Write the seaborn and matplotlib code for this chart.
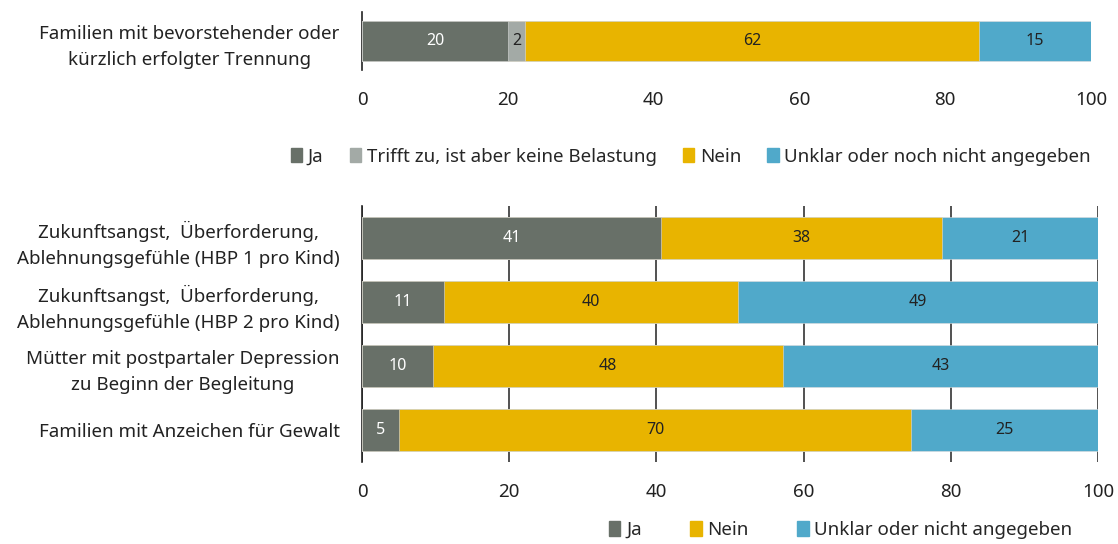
import pandas as pd
import matplotlib.pyplot as plt
import seaborn as sns
from matplotlib.patches import Patch

# --- Daten ---
top_cat = ["Familien mit bevorstehender oder\nkürzlich erfolgter Trennung"]
top_ja = [20.0]
top_trifft = [2.4]
top_nein = [62.2]
top_unklar = [15.4]

bot_cat = [
    "Zukunftsangst,  Überforderung,\nAblehnungsgefühle (HBP 1 pro Kind)",
    "Zukunftsangst,  Überforderung,\nAblehnungsgefühle (HBP 2 pro Kind)",
    "Mütter mit postpartaler Depression\nzu Beginn der Begleitung",
    "Familien mit Anzeichen für Gewalt",
]
bot_ja = [40.6, 11.2, 9.6, 5.0]
bot_nein = [38.2, 39.9, 47.6, 69.6]
bot_unklar = [21.2, 48.9, 42.8, 25.4]

c_ja = "#687068"
c_trifft = "#a3aaa6"
c_nein = "#e8b400"
c_unklar = "#50a9ca"

sns.set_style("white")
plt.rcParams['font.family'] = ['Noto Sans', 'DejaVu Sans']

fig = plt.figure(figsize=(11.18, 5.44), dpi=100)
ax1 = fig.add_axes([0.3238, 0.8713, 0.6520, 0.1067])
ax2 = fig.add_axes([0.3238, 0.1507, 0.6583, 0.4706])


def stacked(ax, cats, series, colors, txtcolors, width):
    df = pd.DataFrame({"cat": cats})
    cum = [0.0] * len(cats)
    cums = []
    for s in series:
        cum = [a + b for a, b in zip(cum, s)]
        cums.append(list(cum))
    # groessten zuerst zeichnen, dann ueberlagern
    for vals, col in zip(reversed(cums), reversed(colors)):
        df["v"] = vals
        sns.barplot(data=df, x="v", y="cat", orient="h", color=col,
                    width=width, ax=ax, saturation=1, edgecolor="#dddddd",
                    linewidth=0.4, zorder=3)
    for i in range(len(cats)):
        left = 0.0
        for s, tc in zip(series, txtcolors):
            v = s[i]
            ax.text(left + v / 2, i, f"{round(v):.0f}", ha="center", va="center",
                    fontsize=11.5, color=tc, zorder=5)
            left += v


stacked(ax1, top_cat, [top_ja, top_trifft, top_nein, top_unklar],
        [c_ja, c_trifft, c_nein, c_unklar], ["white", "#222222", "#222222", "#222222"], 0.69)
stacked(ax2, bot_cat, [bot_ja, bot_nein, bot_unklar],
        [c_ja, c_nein, c_unklar], ["white", "#222222", "#222222"], 0.67)

for ax in (ax1, ax2):
    ax.set_xlim(0, 100)
    ax.set_xticks([0, 20, 40, 60, 80, 100])
    ax.set_xlabel("")
    ax.set_ylabel("")
    ax.tick_params(axis="x", length=0, pad=15, labelsize=13.5, colors="#222222")
    ax.tick_params(axis="y", length=0, pad=16, labelsize=13.5, colors="#222222")
    for lbl in ax.get_yticklabels():
        lbl.set_multialignment("center")
        lbl.set_linespacing(1.6)
    for sp in ["top", "right", "bottom"]:
        ax.spines[sp].set_visible(False)
    ax.spines["left"].set_color("#222222")
    ax.spines["left"].set_linewidth(1.2)

ax1.set_ylim(0.5, -0.5)
ax2.set_ylim(3.5, -0.5)
ax2.grid(axis="x", color="#333333", linewidth=1.2, zorder=0)
ax2.set_axisbelow(True)

h1 = [Patch(color=c_ja, label="Ja"),
      Patch(color=c_trifft, label="Trifft zu, ist aber keine Belastung"),
      Patch(color=c_nein, label="Nein"),
      Patch(color=c_unklar, label="Unklar oder noch nicht angegeben")]
fig.legend(handles=h1, loc="center", bbox_to_anchor=(0.618, 0.712), ncol=4,
           frameon=False, fontsize=13.5, handlelength=0.6, handleheight=0.8,
           handletextpad=0.3, columnspacing=1.4)

h2 = [Patch(color=c_ja, label="Ja"),
      Patch(color=c_nein, label="Nein"),
      Patch(color=c_unklar, label="Unklar oder nicht angegeben")]
fig.legend(handles=h2, loc="center", bbox_to_anchor=(0.752, 0.026), ncol=3,
           frameon=False, fontsize=13.5, handlelength=0.6, handleheight=0.8,
           handletextpad=0.3, columnspacing=2.6)

plt.savefig("out.png", dpi=100)
